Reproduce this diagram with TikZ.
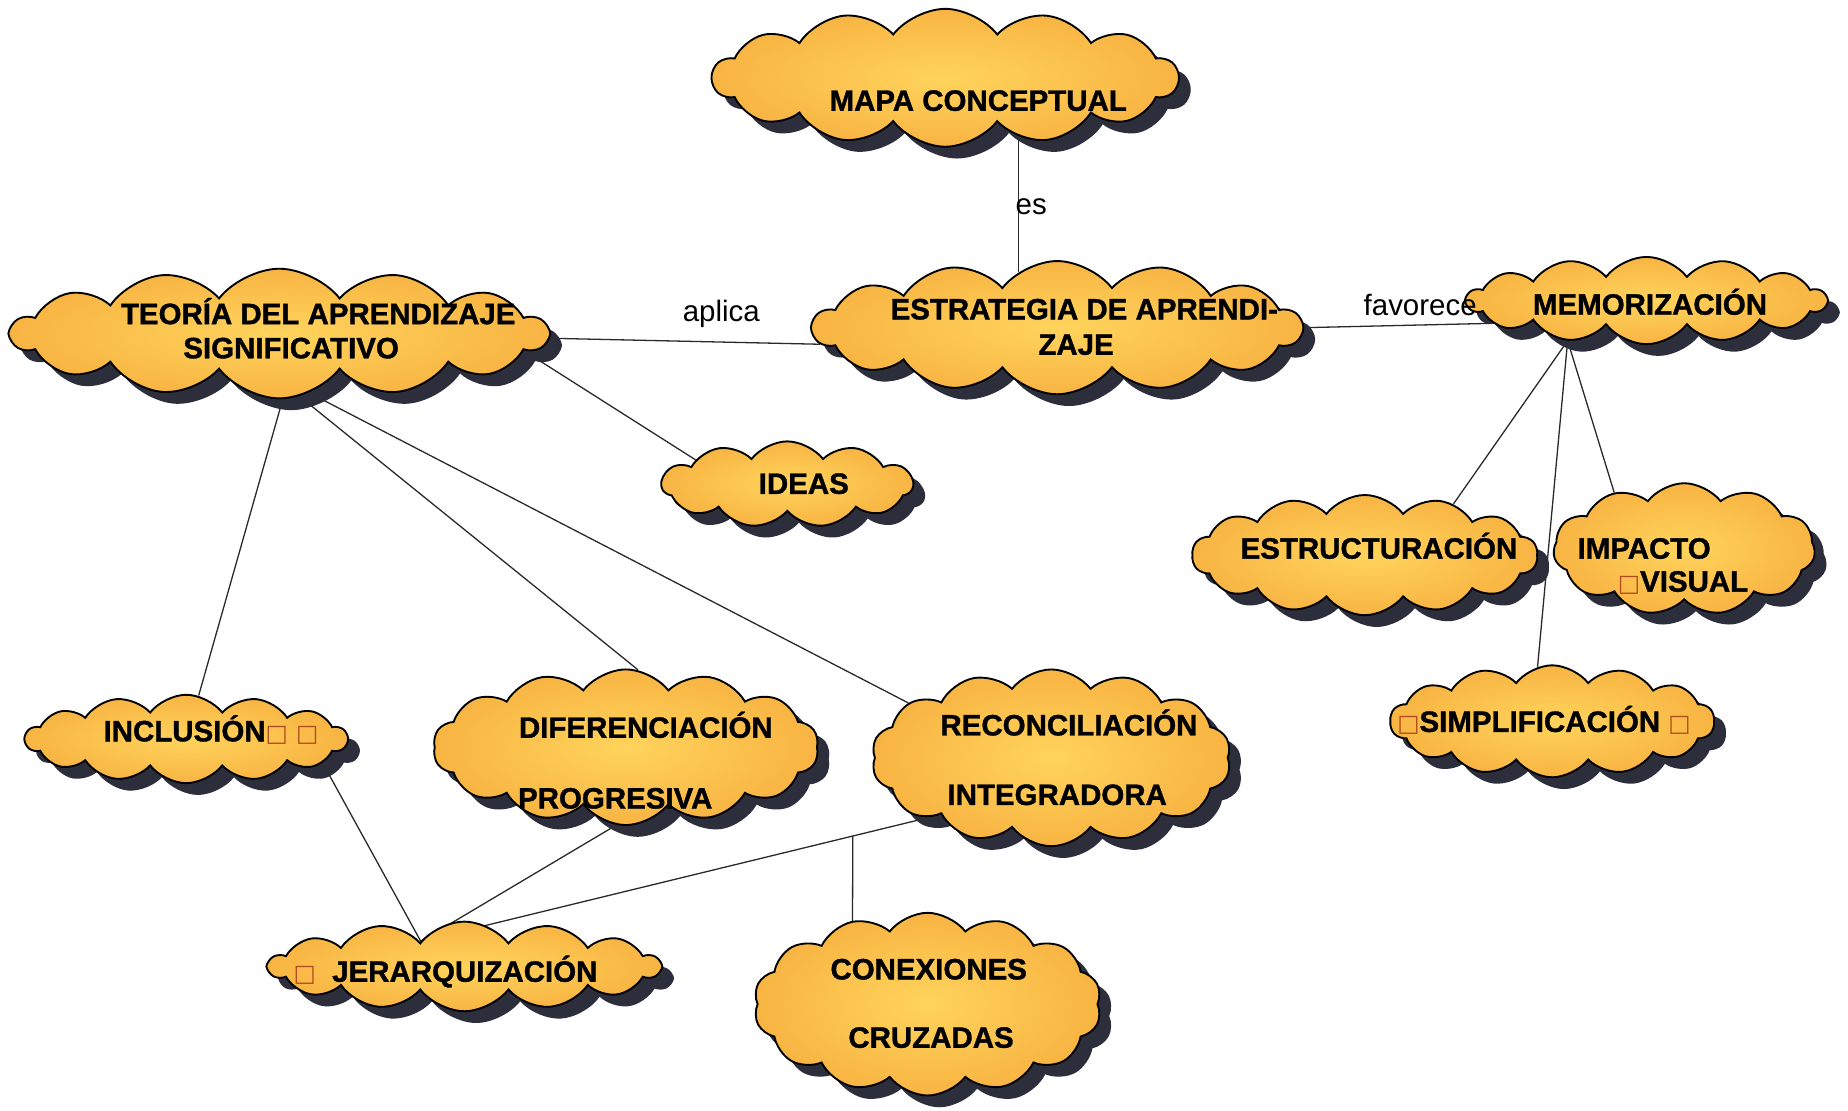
\documentclass[tikz,border=0pt]{standalone}
\usepackage{fontspec}
\setmainfont{Liberation Sans}[BoldFeatures={FakeBold=1.2}]
\newfontfamily\dejavu{DejaVu Sans}
\usetikzlibrary{shapes.symbols,shadows,calc}
\pgfdeclarelayer{background}
\pgfsetlayers{background,main}
\definecolor{cloudin}{HTML}{FFD45C}
\definecolor{cloudout}{HTML}{F8B443}
\definecolor{shadowc}{HTML}{2C2E3B}
\definecolor{tofuc}{HTML}{B04A20}
\definecolor{linec}{HTML}{2A2A2A}
\newcommand\tofu{{\color{tofuc}\dejavu\fontsize{20}{24}\selectfont □}}
\begin{document}
\begin{tikzpicture}[x=1pt,y=-1pt,
  cloudbox/.style={cloud, cloud puffs=14, cloud puff arc=105, cloud ignores aspect,
    draw=black, line width=1.6pt, inner sep=0pt, shading=radial,
    inner color=cloudin, outer color=cloudout,
    drop shadow={shadow xshift=10pt, shadow yshift=-10pt, fill=shadowc, opacity=1}},
  lbl/.style={font=\fontsize{25}{28}\selectfont\bfseries, inner sep=0pt, anchor=base, align=center},
  rel/.style={font=\fontsize{25}{28}\selectfont, inner sep=0pt, anchor=base},
  conn/.style={draw=linec, line width=1.1pt}]
\useasboundingbox (0,0) rectangle (1568,942);
\begin{pgfonlayer}{background}
\fill[white] (0,0) rectangle (1568,942);
\end{pgfonlayer}

% clouds
\node[cloudbox, minimum width=395pt, minimum height=117pt] (mapa) at (802,66) {};
\node[cloudbox, minimum width=415pt, minimum height=113pt] (estr) at (897,278) {};
\node[cloudbox, minimum width=455pt, minimum height=110pt] (teoria) at (237,283) {};
\node[cloudbox, minimum width=305pt, minimum height=74pt] (memo) at (1397,255) {};
\node[cloudbox, minimum width=213pt, minimum height=73pt, cloud puffs=11] (ideas) at (668,411) {};
\node[cloudbox, minimum width=293pt, minimum height=102pt] (estruc) at (1158,471) {};
\node[cloudbox, minimum width=222pt, minimum height=112pt, cloud puffs=11] (impacto) at (1429,466) {};
\node[cloudbox, minimum width=275pt, minimum height=95pt] (simpl) at (1317,612) {};
\node[cloudbox, minimum width=273pt, minimum height=75pt] (incl) at (158,627) {};
\node[cloudbox, minimum width=327pt, minimum height=132pt] (dif) at (531,634) {};
\node[cloudbox, minimum width=305pt, minimum height=150pt] (rec) at (892,643) {};
\node[cloudbox, minimum width=332pt, minimum height=76pt] (jer) at (394,820) {};
\node[cloudbox, minimum width=295pt, minimum height=155pt] (con) at (787,852) {};

% texts
\node[lbl] (tmapa) at (830,94) {MAPA CONCEPTUAL};
\node[lbl] (testrA) at (920,271) {ESTRATEGIA DE APRENDI-};
\node[lbl] (testrB) at (913,301) {ZAJE};
\node[lbl] (tteoriaA) at (270,275) {TEORÍA DEL APRENDIZAJE};
\node[lbl] (tteoriaB) at (247,304) {SIGNIFICATIVO};
\node[lbl] (tmemo) at (1400,267) {MEMORIZACIÓN};
\node[lbl] (tideas) at (682,419) {IDEAS};
\node[lbl] (testruc) at (1170,474) {ESTRUCTURACIÓN};
\node[lbl] (timpA) at (1395,474) {IMPACTO};
\node[lbl] (timpB) at (1428,502) {\tofu VISUAL};
\node[lbl] (tsimpl) at (1310,621) {\tofu SIMPLIFICACIÓN \tofu};
\node[lbl] (tincl) at (179,629) {INCLUSIÓN\tofu\ \tofu};
\node[lbl] (tdifA) at (548,626) {DIFERENCIACIÓN};
\node[lbl] (tdifB) at (522,686) {PROGRESIVA};
\node[lbl] (trecA) at (907,624) {RECONCILIACIÓN};
\node[lbl] (trecB) at (897,683) {INTEGRADORA};
\node[lbl] (tjer) at (378,833) {\tofu\ \ JERARQUIZACIÓN};
\node[lbl] (tconA) at (788,831) {CONEXIONES};
\node[lbl] (tconB) at (790,889) {CRUZADAS};

% relation labels
\node[rel] (les) at (875,182) {es};
\node[rel] (laplica) at (612,273) {aplica};
\node[rel] (lfav) at (1205,268) {favorece};

% connectors
\begin{pgfonlayer}{background}
\draw[conn] (estr.125) -- (estr.125 |- mapa.center);
\draw[conn] (teoria.-1) -- (estr.184);
\draw[conn] (estr.east) -- (memo.191);
\draw[conn] (teoria.-4) -- (ideas.165);
\draw[conn] (teoria.-87) -- (incl.74);
\draw[conn] (teoria.-72) -- (dif.81);
\draw[conn] (teoria.-63) -- (rec.159);
\draw[conn] (memo.207) -- (estruc.30);
\draw[conn] (memo.207) -- (simpl.105);
\draw[conn] (memo.207) -- (impacto.141);
\draw[conn] (incl.-10) -- (jer.150);
\draw[conn] (dif.-97) -- (jer.150);
\draw[conn] (rec.206) -- coordinate[pos=0.15] (junc) (jer.150);
\draw[conn] (junc) -- (con.132);
\end{pgfonlayer}
\end{tikzpicture}
\end{document}
